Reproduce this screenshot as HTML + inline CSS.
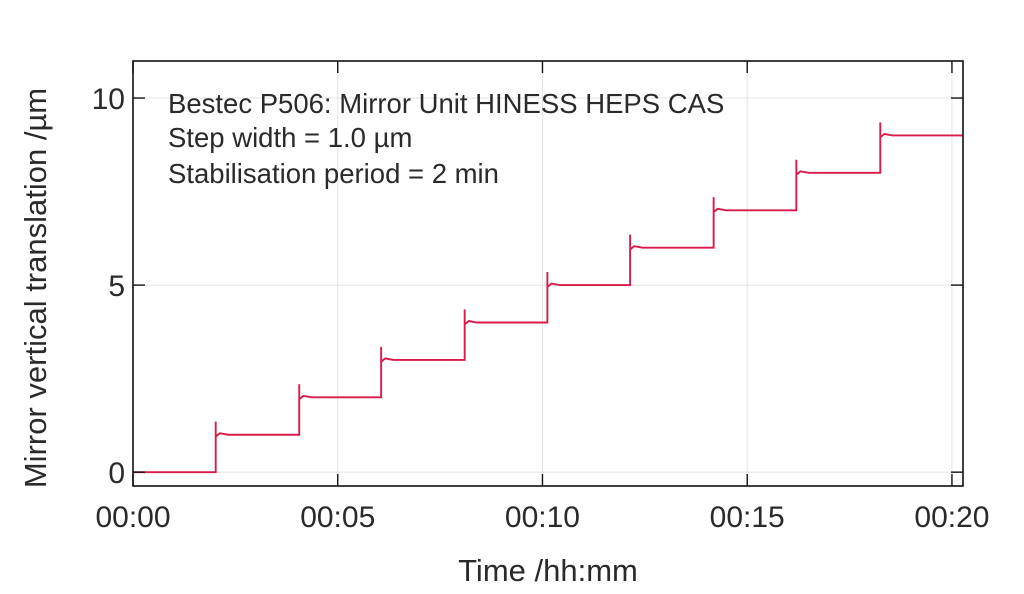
<!DOCTYPE html>
<html><head><meta charset="utf-8"><style>
html,body{margin:0;padding:0;background:#fff;}
svg text{font-family:"Liberation Sans",sans-serif;fill:#2a2a2a;}
</style></head><body>
<svg id="chart" width="1024" height="589" viewBox="0 0 1024 589"></svg>
<script>
const stepTimes = [2.02, 4.06, 6.06, 8.1, 10.12, 12.14, 14.18, 16.2, 18.25];
const stepLevels = [1, 2, 3, 4, 5, 6, 7, 8, 9];
const overshoot = [0.35, 0.35, 0.35, 0.35, 0.35, 0.35, 0.35, 0.35, 0.35];
const xTicks = [0, 5, 10, 15, 20];
const xTickLabels = ["00:00", "00:05", "00:10", "00:15", "00:20"];
const yTicks = [0, 5, 10];
const yTickLabels = ["0", "5", "10"];

const L=133,R=963,T=61,B=486;
const xMin=0,xMax=20.27,yMin=-0.37,yMax=10.99;
const sx=v=>L+(v-xMin)/(xMax-xMin)*(R-L);
const sy=v=>B-(v-yMin)/(yMax-yMin)*(B-T);
const NS="http://www.w3.org/2000/svg";
const svg=document.getElementById('chart');
function mk(tag,attrs,parent){const e=document.createElementNS(NS,tag);for(const k in attrs)e.setAttribute(k,attrs[k]);(parent||svg).appendChild(e);return e;}

xTicks.forEach((t,i)=>{
  const g=mk('line',{x1:sx(t),x2:sx(t),y1:T,y2:B,stroke:'#e4e4e4','stroke-width':1});
  
  
});
yTicks.forEach(t=>{
  const g=mk('line',{x1:L,x2:R,y1:sy(t),y2:sy(t),stroke:'#e4e4e4','stroke-width':1});
  
  
});

let d=`M${sx(0)},${sy(0)}`;
let level=0;
stepTimes.forEach((t,i)=>{
  const nl=stepLevels[i];
  d+=` L${sx(t)},${sy(level)} L${sx(t)},${sy(nl+overshoot[i])} L${sx(t)},${sy(nl-0.05)} L${sx(t+0.1)},${sy(nl+0.04)} L${sx(t+0.3)},${sy(nl)}`;
  level=nl;
});
d+=` L${sx(xMax)},${sy(level)}`;
const p=mk('path',{d:d,fill:'none',stroke:'#d81b4a','stroke-width':1.9});



const f=mk('rect',{x:L,y:T,width:R-L,height:B-T,fill:'none',stroke:'#111','stroke-width':1.6});



xTicks.forEach((t,i)=>{
  const x=sx(t);
  const a=mk('line',{x1:x,x2:x,y1:B,y2:B-12,stroke:'#111','stroke-width':1.4});
  
  
  const b=mk('line',{x1:x,x2:x,y1:T,y2:T+12,stroke:'#111','stroke-width':1.4});
  
  
  const tx=mk('text',{x:x,y:527,'text-anchor':'middle','font-size':30});
  tx.textContent=xTickLabels[i];
  
  
});
yTicks.forEach((t,i)=>{
  const y=sy(t);
  const a=mk('line',{x1:L,x2:L+12,y1:y,y2:y,stroke:'#111','stroke-width':1.4});
  
  
  const b=mk('line',{x1:R,x2:R-12,y1:y,y2:y,stroke:'#111','stroke-width':1.4});
  
  
  const tx=mk('text',{x:125,y:y+11,'text-anchor':'end','font-size':30});
  tx.textContent=yTickLabels[i];
  
  
});
</script>
<svg width="1024" height="589" style="position:absolute;left:0;top:0">
<text x="548" y="581" text-anchor="middle" font-size="31">Time /hh:mm</text>
<text transform="translate(46,288) rotate(-90)" text-anchor="middle" font-size="31">Mirror vertical translation /µm</text>
<text x="168" y="113" font-size="27.5">Bestec P506: Mirror Unit HINESS HEPS CAS</text>
<text x="168" y="147" font-size="27.5">Step width = 1.0 µm</text>
<text x="168" y="183" font-size="27.5">Stabilisation period = 2 min</text>
</svg>
</body></html>
